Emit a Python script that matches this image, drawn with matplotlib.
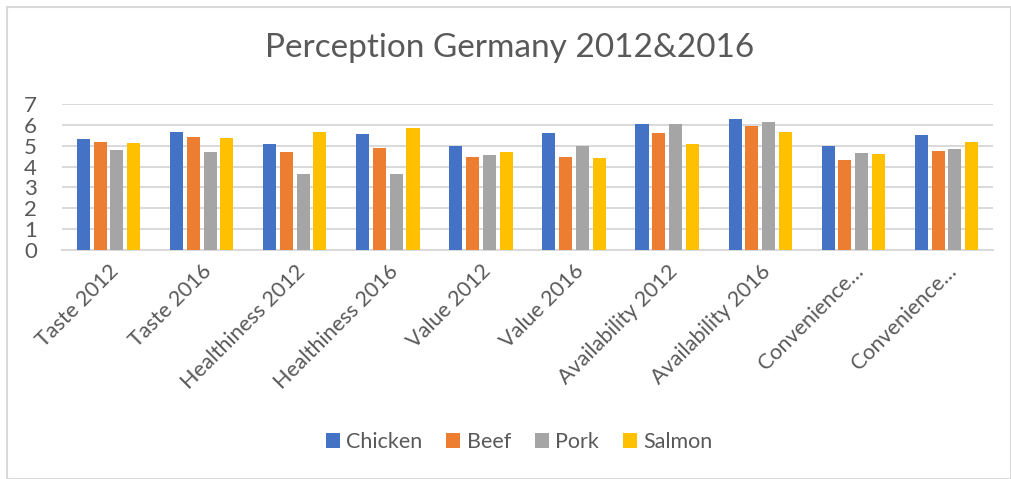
import matplotlib
matplotlib.use("Agg")
import matplotlib.pyplot as plt
import numpy as np
from matplotlib.patches import Rectangle

categories = ["Taste 2012", "Taste 2016", "Healthiness 2012", "Healthiness 2016",
              "Value 2012", "Value 2016", "Availability 2012", "Availability 2016",
              "Convenience…", "Convenience…"]
series_names = ["Chicken", "Beef", "Pork", "Salmon"]
chicken = [5.30, 5.65, 5.10, 5.55, 5.01, 5.60, 6.04, 6.26, 4.98, 5.49]
beef = [5.17, 5.43, 4.69, 4.88, 4.48, 4.48, 5.59, 5.96, 4.33, 4.75]
pork = [4.78, 4.72, 3.63, 3.63, 4.57, 5.01, 6.04, 6.16, 4.65, 4.85]
salmon = [5.14, 5.36, 5.65, 5.87, 4.72, 4.40, 5.10, 5.65, 4.61, 5.20]
colors = ["#4472C4", "#ED7D31", "#A5A5A5", "#FFC000"]
yticks = [0, 1, 2, 3, 4, 5, 6, 7]
title = "Perception Germany 2012&2016"

plt.rcParams['font.family'] = ['Lato', 'DejaVu Sans']
txt = "#595959"

fig = plt.figure(figsize=(10.11, 4.79), dpi=100)
W, H = 1011, 479
ax = fig.add_axes([62 / W, (H - 250) / H, (993 - 62) / W, (250 - 104) / H])

x = np.arange(len(categories))
step = 0.18
bw = 0.14
for i, (name, vals) in enumerate(zip(series_names, [chicken, beef, pork, salmon])):
    ax.bar(x + (i - 1.5) * step, vals, width=bw, color=colors[i], label=name, zorder=3)

ax.set_xlim(-0.5, len(categories) - 0.5)
ax.set_ylim(0, 7)
ax.set_yticks(yticks)
ax.set_yticklabels([str(v) for v in yticks], fontsize=16, color=txt)
ax.yaxis.grid(True, color="#D9D9D9", linewidth=1.4, zorder=0)
ax.set_axisbelow(True)
for s in ["top", "right", "left"]:
    ax.spines[s].set_visible(False)
ax.spines["bottom"].set_color("#D9D9D9")
ax.spines["bottom"].set_linewidth(1.4)
ax.tick_params(axis="y", length=0, pad=18)
ax.tick_params(axis="x", length=0, pad=8)
ax.set_xticks(x)
ax.set_xticklabels(categories, rotation=45, ha="right", rotation_mode="anchor",
                   fontsize=15.5, color=txt)

fig.text(510 / W, 1 - 48 / H, title, ha="center", va="center", fontsize=24, color=txt)

leg = fig.legend(loc="center", bbox_to_anchor=(519 / W, 1 - 442 / H), ncol=4,
                 frameon=False, fontsize=15.5, handlelength=0.65, handleheight=0.65,
                 handletextpad=0.3, columnspacing=1.1)
for t in leg.get_texts():
    t.set_color(txt)

fig.patches.append(Rectangle((7 / W, 0), 1 - 7 / W, 1 - 7 / H, transform=fig.transFigure,
                             fill=False, edgecolor="#D9D9D9", linewidth=1.5))

fig.savefig("out.png", dpi=100)
